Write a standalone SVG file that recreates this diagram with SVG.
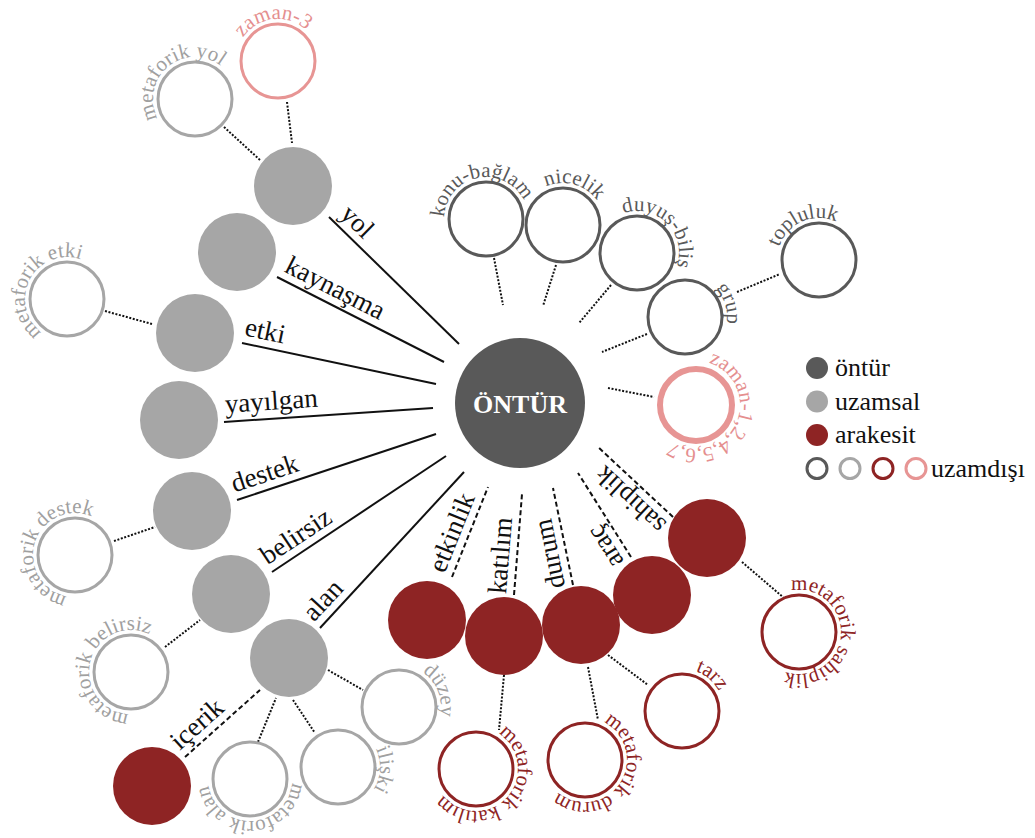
<svg xmlns="http://www.w3.org/2000/svg" width="1035" height="838" viewBox="0 0 1035 838" font-family="Liberation Serif, Times New Roman, serif">
  <style>
    .lbl { font-size: 27px; fill: #111; }
    .arc { font-size: 21px; }
    .leg { font-size: 26px; fill: #111; }
    .solid { stroke: #111; stroke-width: 2; fill: none; }
    .dash { stroke: #111; stroke-width: 2; stroke-dasharray: 5 3; fill: none; }
    .dot { stroke: #111; stroke-width: 2; stroke-dasharray: 2 1.6; fill: none; }
    .fDark { fill: #595959; }
    .fGray { fill: #a6a6a6; }
    .fRed { fill: #8e2424; }
    .oDark { fill: #fff; stroke: #595959; stroke-width: 3; }
    .oGray { fill: #fff; stroke: #a6a6a6; stroke-width: 3; }
    .oRed { fill: #fff; stroke: #8e2424; stroke-width: 3; }
    .oPink { fill: #fff; stroke: #e79594; stroke-width: 3; }
    .tDark { fill: #595959; }
    .tGray { fill: #a0a0a0; }
    .tRed { fill: #8e2424; }
    .tPink { fill: #e58f8f; }
  </style>
  <defs>
    <!-- circular baselines centred on the origin; 50% of the length sits at angle 0 -->
    <path id="c42" d="M -42 0 A 42 42 0 1 1 42 0 A 42 42 0 1 1 -42 0"/>
    <path id="c44" d="M -44 0 A 44 44 0 1 1 44 0 A 44 44 0 1 1 -44 0"/>
  </defs>
  <rect width="1035" height="838" fill="#fff"/>

  <!-- connectors -->
  <g id="connectors">
    <line class="solid" x1="329" y1="217" x2="459" y2="344"/>
    <line class="solid" x1="277" y1="277" x2="444" y2="362"/>
    <line class="solid" x1="242" y1="343" x2="436" y2="384"/>
    <line class="solid" x1="224" y1="422" x2="433" y2="408"/>
    <line class="solid" x1="237" y1="500" x2="436" y2="434"/>
    <line class="solid" x1="272" y1="572" x2="446" y2="456"/>
    <line class="solid" x1="320" y1="628" x2="464" y2="472"/>

    <line class="dash" x1="452" y1="577" x2="488" y2="487"/>
    <line class="dash" x1="514" y1="595" x2="522" y2="494"/>
    <line class="dash" x1="573" y1="585" x2="553" y2="488"/>
    <line class="dash" x1="631" y1="557" x2="578" y2="473"/>
    <line class="dash" x1="673" y1="517" x2="598" y2="447"/>
    <line class="dash" x1="185" y1="757" x2="260" y2="690"/>

    <line class="dot" x1="224" y1="127" x2="260" y2="160"/>
    <line class="dot" x1="287" y1="102" x2="292" y2="143"/>
    <line class="dot" x1="105" y1="311" x2="152" y2="324"/>
    <line class="dot" x1="114" y1="541" x2="155" y2="527"/>
    <line class="dot" x1="165" y1="647" x2="200" y2="620"/>
    <line class="dot" x1="258" y1="742" x2="276" y2="698"/>
    <line class="dot" x1="293" y1="700" x2="315" y2="733"/>
    <line class="dot" x1="328" y1="670" x2="363" y2="690"/>

    <line class="dot" x1="494" y1="258" x2="503" y2="305"/>
    <line class="dot" x1="556" y1="265" x2="543" y2="306"/>
    <line class="dot" x1="611" y1="285" x2="579" y2="323"/>
    <line class="dot" x1="647" y1="334" x2="602" y2="352"/>
    <line class="dot" x1="737" y1="292" x2="780" y2="274"/>
    <line class="dot" x1="608" y1="388" x2="654" y2="397"/>

    <line class="dot" x1="742" y1="562" x2="784" y2="598"/>
    <line class="dot" x1="608" y1="655" x2="648" y2="685"/>
    <line class="dot" x1="588" y1="667" x2="598" y2="720"/>
    <line class="dot" x1="504" y1="675" x2="499" y2="730"/>
  </g>

  <!-- connector labels, baseline running along each line -->
  <g id="connector-labels" class="lbl">
    <text transform="translate(329,217) rotate(44.5)" x="6" y="-8">yol</text>
    <text transform="translate(277,277) rotate(27)" x="3" y="-8">kaynaşma</text>
    <text transform="translate(242,343) rotate(11.9)" x="0" y="-8">etki</text>
    <text transform="translate(224,422) rotate(-3.8)" x="2" y="-9">yayılgan</text>
    <text transform="translate(237,500) rotate(-18.3)" x="0" y="-8">destek</text>
    <text transform="translate(272,572) rotate(-33.7)" x="0" y="-8">belirsiz</text>
    <text transform="translate(320,628) rotate(-47.3)" x="0" y="-8">alan</text>
    <text transform="translate(185,757) rotate(-41.8)" x="0" y="-8">içerik</text>
    <text transform="translate(452,577) rotate(-68.2)" x="0" y="-8">etkinlik</text>
    <text transform="translate(514,595) rotate(-85.5)" x="0" y="-8">katılım</text>
    <text transform="translate(573,585) rotate(-101.6)" x="0" y="-8">durum</text>
    <text transform="translate(631,557) rotate(-122.2)" x="0" y="-8">araç</text>
    <text transform="translate(673,517) rotate(-137)" x="0" y="-8">sahiplik</text>
  </g>

  <!-- central node -->
  <g id="ontur">
    <circle class="fDark" cx="520" cy="403" r="65"/>
    <text x="520" y="413" font-size="26" font-weight="bold" fill="#fff" text-anchor="middle">ÖNTÜR</text>
  </g>

  <!-- spatial (uzamsal) nodes -->
  <g id="yol"><circle class="fGray" cx="293" cy="186" r="39"/></g>
  <g id="kaynasma"><circle class="fGray" cx="237" cy="252" r="39"/></g>
  <g id="etki"><circle class="fGray" cx="195" cy="333" r="39"/></g>
  <g id="yayilgan"><circle class="fGray" cx="179" cy="420" r="39"/></g>
  <g id="destek"><circle class="fGray" cx="192" cy="511" r="39"/></g>
  <g id="belirsiz"><circle class="fGray" cx="231" cy="594" r="39"/></g>
  <g id="alan"><circle class="fGray" cx="289" cy="658" r="39"/></g>

  <!-- arakesit nodes -->
  <g id="etkinlik"><circle class="fRed" cx="427" cy="620" r="39"/></g>
  <g id="katilim"><circle class="fRed" cx="504" cy="636" r="39"/></g>
  <g id="durum"><circle class="fRed" cx="581" cy="625" r="39"/></g>
  <g id="arac"><circle class="fRed" cx="652" cy="595" r="39"/></g>
  <g id="sahiplik"><circle class="fRed" cx="707" cy="538" r="39"/></g>
  <g id="icerik"><circle class="fRed" cx="152" cy="786" r="39"/></g>

  <!-- uzamdışı nodes, each with its name set round the rim -->
  <g id="konu-baglam">
    <circle class="oDark" cx="486" cy="219" r="37"/>
    <text class="arc tDark" transform="translate(486,219) rotate(-102)"><textPath href="#c42" startOffset="50%" text-anchor="middle">konu-bağlam</textPath></text>
  </g>
  <g id="nicelik">
    <circle class="oDark" cx="563" cy="225" r="37"/>
    <text class="arc tDark" transform="translate(563,225) rotate(-75)"><textPath href="#c42" startOffset="50%" text-anchor="middle">nicelik</textPath></text>
  </g>
  <g id="duyus-bilis">
    <circle class="oDark" cx="637" cy="253" r="37"/>
    <text class="arc tDark" transform="translate(637,253) rotate(-45)"><textPath href="#c42" startOffset="50%" text-anchor="middle">duyuş-biliş</textPath></text>
  </g>
  <g id="grup">
    <circle class="oDark" cx="685" cy="317" r="37"/>
    <text class="arc tDark" transform="translate(685,317) rotate(-17)"><textPath href="#c42" startOffset="50%" text-anchor="middle">grup</textPath></text>
  </g>
  <g id="topluluk">
    <circle class="oDark" cx="819" cy="260" r="37"/>
    <text class="arc tDark" transform="translate(819,260) rotate(-114)"><textPath href="#c42" startOffset="50%" text-anchor="middle">topluluk</textPath></text>
  </g>
  <g id="zaman-1">
    <circle fill="#fff" stroke="#e79594" stroke-width="6" cx="696" cy="405" r="36"/>
    <text class="arc tPink" transform="translate(696,405) rotate(25)"><textPath href="#c44" startOffset="50%" text-anchor="middle">zaman-1,2,4,5,6,7</textPath></text>
  </g>

  <g id="metaforik-yol">
    <circle class="oGray" cx="195" cy="99" r="37"/>
    <text class="arc tGray" transform="translate(195,99) rotate(-130)"><textPath href="#c42" startOffset="50%" text-anchor="middle">metaforik yol</textPath></text>
  </g>
  <g id="zaman-3">
    <circle class="oPink" cx="278" cy="61" r="37"/>
    <text class="arc tPink" font-size="22" transform="translate(278,61) rotate(-97)"><textPath href="#c42" startOffset="50%" text-anchor="middle">zaman-3</textPath></text>
  </g>
  <g id="metaforik-etki">
    <circle class="oGray" cx="67" cy="299" r="37"/>
    <text class="arc tGray" transform="translate(67,299) rotate(-152)"><textPath href="#c42" startOffset="50%" text-anchor="middle">metaforik etki</textPath></text>
  </g>
  <g id="metaforik-destek">
    <circle class="oGray" cx="75" cy="555" r="37"/>
    <text class="arc tGray" transform="translate(75,555) rotate(-163)"><textPath href="#c42" startOffset="50%" text-anchor="middle">metaforik destek</textPath></text>
  </g>
  <g id="metaforik-belirsiz">
    <circle class="oGray" cx="131" cy="672" r="37"/>
    <text class="arc tGray" transform="translate(131,672) rotate(-165.5)"><textPath href="#c42" startOffset="50%" text-anchor="middle">metaforik belirsiz</textPath></text>
  </g>
  <g id="metaforik-alan">
    <circle class="oGray" cx="250" cy="779" r="37"/>
    <text class="arc tGray" transform="translate(250,779) rotate(88)"><textPath href="#c42" startOffset="50%" text-anchor="middle">metaforik alan</textPath></text>
  </g>
  <g id="iliski">
    <circle class="oGray" cx="338" cy="767" r="37"/>
    <text class="arc tGray" transform="translate(338,767) rotate(3)"><textPath href="#c42" startOffset="50%" text-anchor="middle">ilişki</textPath></text>
  </g>
  <g id="duzey">
    <circle class="oGray" cx="399" cy="707" r="37"/>
    <text class="arc tGray" transform="translate(399,707) rotate(-22)"><textPath href="#c42" startOffset="50%" text-anchor="middle">düzey</textPath></text>
  </g>

  <g id="metaforik-katilim">
    <circle class="oRed" cx="476" cy="769" r="37"/>
    <text class="arc tRed" transform="translate(476,769) rotate(42)"><textPath href="#c42" startOffset="50%" text-anchor="middle">metaforik katılım</textPath></text>
  </g>
  <g id="metaforik-durum">
    <circle class="oRed" cx="585" cy="760" r="37"/>
    <text class="arc tRed" transform="translate(585,760) rotate(33)"><textPath href="#c42" startOffset="50%" text-anchor="middle">metaforik durum</textPath></text>
  </g>
  <g id="tarz">
    <circle class="oRed" cx="682" cy="711" r="37"/>
    <text class="arc tRed" transform="translate(682,711) rotate(-50)"><textPath href="#c42" startOffset="50%" text-anchor="middle">tarz</textPath></text>
  </g>
  <g id="metaforik-sahiplik">
    <circle class="oRed" cx="799" cy="632" r="37"/>
    <text class="arc tRed" transform="translate(799,632) rotate(4)"><textPath href="#c42" startOffset="50%" text-anchor="middle">metaforik sahiplik</textPath></text>
  </g>

  <!-- legend -->
  <g id="legend" class="leg">
    <circle class="fDark" cx="817" cy="368" r="11"/>
    <text x="835" y="376">öntür</text>
    <circle class="fGray" cx="817" cy="401.5" r="11"/>
    <text x="835" y="409.5">uzamsal</text>
    <circle class="fRed" cx="817" cy="435" r="11"/>
    <text x="835" y="443">arakesit</text>
    <circle class="oDark" cx="817" cy="468.5" r="10"/>
    <circle class="oGray" cx="850" cy="468.5" r="10"/>
    <circle class="oRed" cx="883" cy="468.5" r="10"/>
    <circle class="oPink" cx="916" cy="468.5" r="10"/>
    <text x="931" y="476.5">uzamdışı</text>
  </g>
</svg>
